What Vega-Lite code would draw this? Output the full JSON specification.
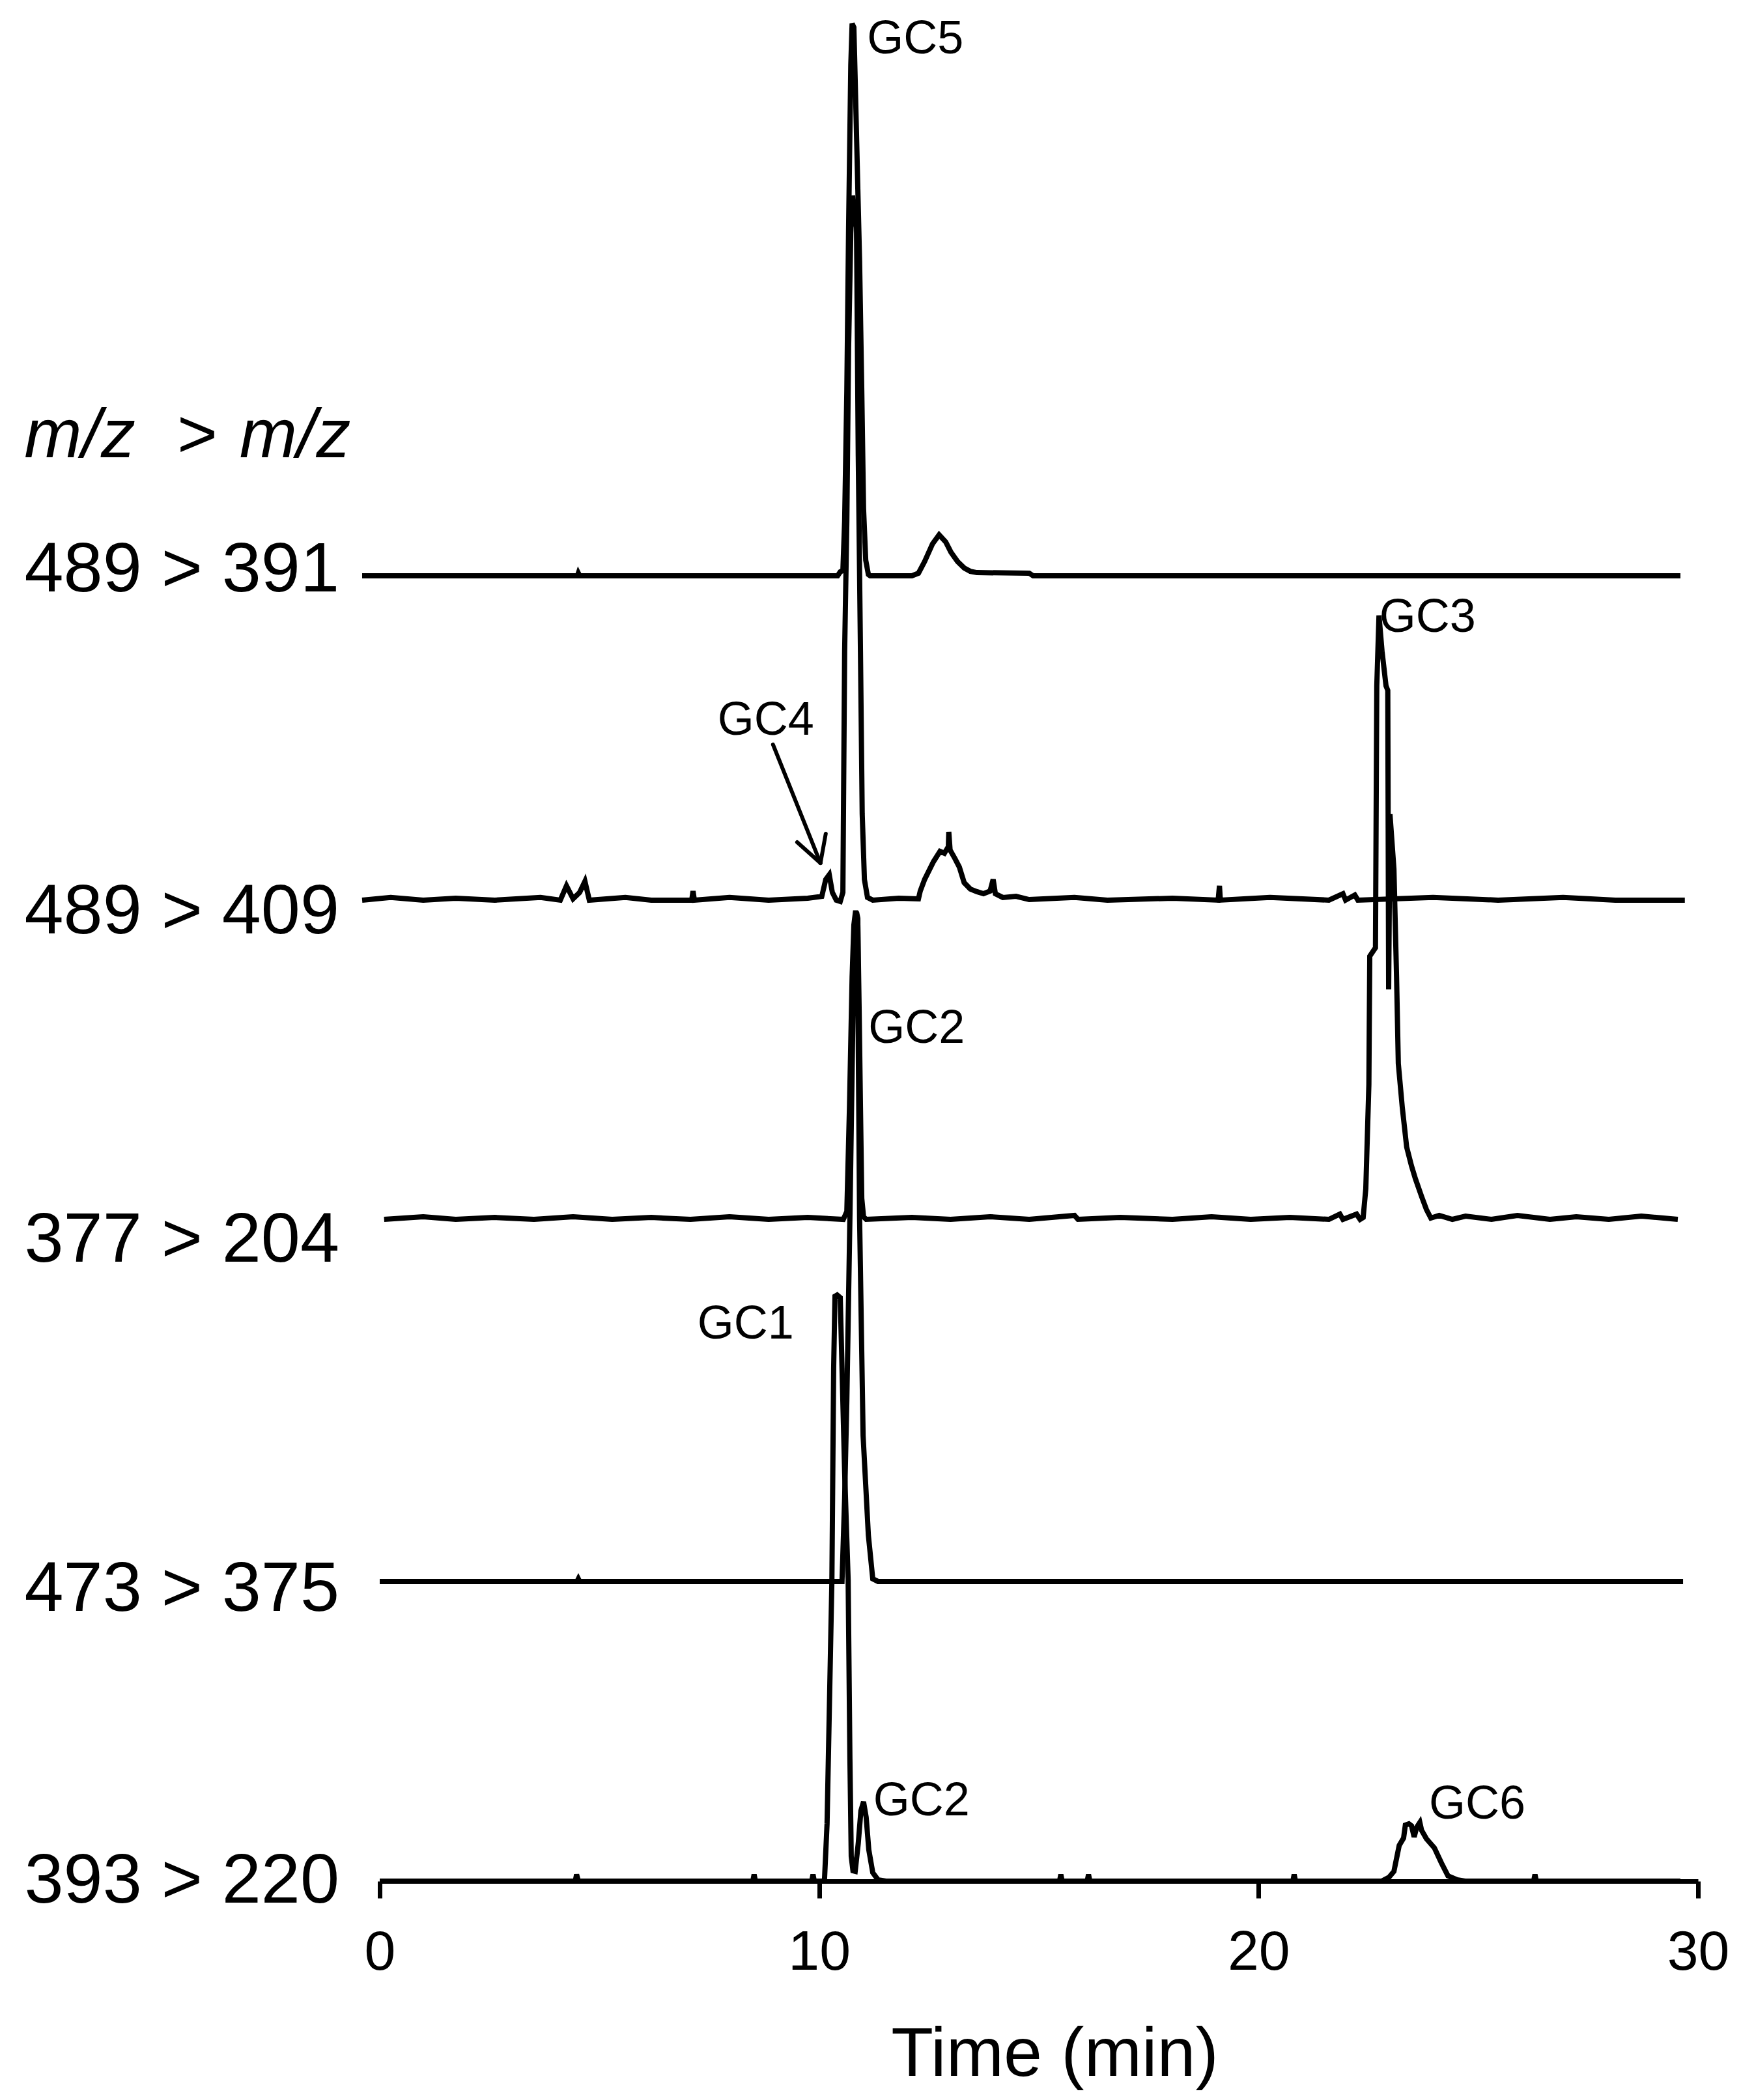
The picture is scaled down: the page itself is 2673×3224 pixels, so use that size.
{
  "$schema": "https://vega.github.io/schema/vega-lite/v6.json",
  "width": 2024,
  "height": 2888,
  "autosize": {"type": "none"},
  "padding": {"left": 583, "top": 0, "right": 66, "bottom": 336},
  "background": "white",
  "config": {"view": {"stroke": null}, "font": "Liberation Sans", "axis": {"grid": false}},
  "datasets": {
    "traces": [
      {"channel": "489 > 391", "time": -0.40, "signal": 69.39},
      {"channel": "489 > 391", "time": 4.50, "signal": 69.39},
      {"channel": "489 > 391", "time": 4.52, "signal": 69.53},
      {"channel": "489 > 391", "time": 4.55, "signal": 69.39},
      {"channel": "489 > 391", "time": 10.42, "signal": 69.39},
      {"channel": "489 > 391", "time": 10.48, "signal": 69.60},
      {"channel": "489 > 391", "time": 10.54, "signal": 69.67},
      {"channel": "489 > 391", "time": 10.58, "signal": 72.30},
      {"channel": "489 > 391", "time": 10.63, "signal": 79.22},
      {"channel": "489 > 391", "time": 10.67, "signal": 87.88},
      {"channel": "489 > 391", "time": 10.72, "signal": 96.54},
      {"channel": "489 > 391", "time": 10.75, "signal": 98.75},
      {"channel": "489 > 391", "time": 10.79, "signal": 98.55},
      {"channel": "489 > 391", "time": 10.83, "signal": 94.81},
      {"channel": "489 > 391", "time": 10.88, "signal": 89.96},
      {"channel": "489 > 391", "time": 10.92, "signal": 86.15},
      {"channel": "489 > 391", "time": 10.97, "signal": 79.22},
      {"channel": "489 > 391", "time": 11.01, "signal": 72.99},
      {"channel": "489 > 391", "time": 11.06, "signal": 70.22},
      {"channel": "489 > 391", "time": 11.12, "signal": 69.46},
      {"channel": "489 > 391", "time": 11.16, "signal": 69.39},
      {"channel": "489 > 391", "time": 12.11, "signal": 69.39},
      {"channel": "489 > 391", "time": 12.26, "signal": 69.53},
      {"channel": "489 > 391", "time": 12.40, "signal": 70.15},
      {"channel": "489 > 391", "time": 12.58, "signal": 71.09},
      {"channel": "489 > 391", "time": 12.73, "signal": 71.57},
      {"channel": "489 > 391", "time": 12.88, "signal": 71.19},
      {"channel": "489 > 391", "time": 13.00, "signal": 70.64},
      {"channel": "489 > 391", "time": 13.15, "signal": 70.15},
      {"channel": "489 > 391", "time": 13.30, "signal": 69.81},
      {"channel": "489 > 391", "time": 13.44, "signal": 69.63},
      {"channel": "489 > 391", "time": 13.59, "signal": 69.56},
      {"channel": "489 > 391", "time": 14.78, "signal": 69.53},
      {"channel": "489 > 391", "time": 14.87, "signal": 69.39},
      {"channel": "489 > 391", "time": 29.60, "signal": 69.39},

      {"channel": "489 > 409", "time": -0.40, "signal": 52.15},
      {"channel": "489 > 409", "time": 0.25, "signal": 52.29},
      {"channel": "489 > 409", "time": 0.99, "signal": 52.15},
      {"channel": "489 > 409", "time": 1.73, "signal": 52.25},
      {"channel": "489 > 409", "time": 2.62, "signal": 52.15},
      {"channel": "489 > 409", "time": 3.66, "signal": 52.29},
      {"channel": "489 > 409", "time": 4.11, "signal": 52.15},
      {"channel": "489 > 409", "time": 4.25, "signal": 52.91},
      {"channel": "489 > 409", "time": 4.40, "signal": 52.22},
      {"channel": "489 > 409", "time": 4.55, "signal": 52.56},
      {"channel": "489 > 409", "time": 4.67, "signal": 53.15},
      {"channel": "489 > 409", "time": 4.77, "signal": 52.15},
      {"channel": "489 > 409", "time": 5.59, "signal": 52.29},
      {"channel": "489 > 409", "time": 6.18, "signal": 52.15},
      {"channel": "489 > 409", "time": 7.10, "signal": 52.15},
      {"channel": "489 > 409", "time": 7.13, "signal": 52.63},
      {"channel": "489 > 409", "time": 7.16, "signal": 52.15},
      {"channel": "489 > 409", "time": 7.96, "signal": 52.29},
      {"channel": "489 > 409", "time": 8.85, "signal": 52.15},
      {"channel": "489 > 409", "time": 9.74, "signal": 52.25},
      {"channel": "489 > 409", "time": 10.06, "signal": 52.35},
      {"channel": "489 > 409", "time": 10.15, "signal": 53.25},
      {"channel": "489 > 409", "time": 10.23, "signal": 53.50},
      {"channel": "489 > 409", "time": 10.30, "signal": 52.56},
      {"channel": "489 > 409", "time": 10.39, "signal": 52.15},
      {"channel": "489 > 409", "time": 10.48, "signal": 52.08},
      {"channel": "489 > 409", "time": 10.54, "signal": 52.56},
      {"channel": "489 > 409", "time": 10.58, "signal": 65.37},
      {"channel": "489 > 409", "time": 10.63, "signal": 72.30},
      {"channel": "489 > 409", "time": 10.67, "signal": 81.50},
      {"channel": "489 > 409", "time": 10.72, "signal": 87.60},
      {"channel": "489 > 409", "time": 10.76, "signal": 89.60},
      {"channel": "489 > 409", "time": 10.80, "signal": 89.00},
      {"channel": "489 > 409", "time": 10.85, "signal": 87.90},
      {"channel": "489 > 409", "time": 10.89, "signal": 75.76},
      {"channel": "489 > 409", "time": 10.94, "signal": 65.37},
      {"channel": "489 > 409", "time": 10.98, "signal": 56.72},
      {"channel": "489 > 409", "time": 11.03, "signal": 53.25},
      {"channel": "489 > 409", "time": 11.10, "signal": 52.29},
      {"channel": "489 > 409", "time": 11.22, "signal": 52.15},
      {"channel": "489 > 409", "time": 11.81, "signal": 52.25},
      {"channel": "489 > 409", "time": 12.26, "signal": 52.22},
      {"channel": "489 > 409", "time": 12.30, "signal": 52.63},
      {"channel": "489 > 409", "time": 12.40, "signal": 53.25},
      {"channel": "489 > 409", "time": 12.60, "signal": 54.19},
      {"channel": "489 > 409", "time": 12.75, "signal": 54.74},
      {"channel": "489 > 409", "time": 12.85, "signal": 54.64},
      {"channel": "489 > 409", "time": 12.94, "signal": 54.99},
      {"channel": "489 > 409", "time": 12.95, "signal": 55.78},
      {"channel": "489 > 409", "time": 12.98, "signal": 54.81},
      {"channel": "489 > 409", "time": 13.09, "signal": 54.36},
      {"channel": "489 > 409", "time": 13.19, "signal": 53.91},
      {"channel": "489 > 409", "time": 13.30, "signal": 53.08},
      {"channel": "489 > 409", "time": 13.44, "signal": 52.74},
      {"channel": "489 > 409", "time": 13.59, "signal": 52.60},
      {"channel": "489 > 409", "time": 13.74, "signal": 52.49},
      {"channel": "489 > 409", "time": 13.89, "signal": 52.63},
      {"channel": "489 > 409", "time": 13.96, "signal": 53.25},
      {"channel": "489 > 409", "time": 14.01, "signal": 52.49},
      {"channel": "489 > 409", "time": 14.18, "signal": 52.29},
      {"channel": "489 > 409", "time": 14.48, "signal": 52.35},
      {"channel": "489 > 409", "time": 14.78, "signal": 52.18},
      {"channel": "489 > 409", "time": 15.81, "signal": 52.29},
      {"channel": "489 > 409", "time": 16.56, "signal": 52.15},
      {"channel": "489 > 409", "time": 18.04, "signal": 52.25},
      {"channel": "489 > 409", "time": 19.08, "signal": 52.15},
      {"channel": "489 > 409", "time": 19.11, "signal": 52.91},
      {"channel": "489 > 409", "time": 19.13, "signal": 52.15},
      {"channel": "489 > 409", "time": 20.26, "signal": 52.29},
      {"channel": "489 > 409", "time": 21.60, "signal": 52.15},
      {"channel": "489 > 409", "time": 21.92, "signal": 52.49},
      {"channel": "489 > 409", "time": 21.98, "signal": 52.15},
      {"channel": "489 > 409", "time": 22.19, "signal": 52.42},
      {"channel": "489 > 409", "time": 22.26, "signal": 52.15},
      {"channel": "489 > 409", "time": 23.97, "signal": 52.29},
      {"channel": "489 > 409", "time": 25.45, "signal": 52.15},
      {"channel": "489 > 409", "time": 26.93, "signal": 52.29},
      {"channel": "489 > 409", "time": 28.12, "signal": 52.15},
      {"channel": "489 > 409", "time": 29.70, "signal": 52.15},

      {"channel": "377 > 204", "time": 0.10, "signal": 35.18},
      {"channel": "377 > 204", "time": 0.99, "signal": 35.32},
      {"channel": "377 > 204", "time": 1.73, "signal": 35.18},
      {"channel": "377 > 204", "time": 2.62, "signal": 35.28},
      {"channel": "377 > 204", "time": 3.51, "signal": 35.18},
      {"channel": "377 > 204", "time": 4.40, "signal": 35.32},
      {"channel": "377 > 204", "time": 5.29, "signal": 35.18},
      {"channel": "377 > 204", "time": 6.18, "signal": 35.28},
      {"channel": "377 > 204", "time": 7.07, "signal": 35.18},
      {"channel": "377 > 204", "time": 7.96, "signal": 35.32},
      {"channel": "377 > 204", "time": 8.85, "signal": 35.18},
      {"channel": "377 > 204", "time": 9.74, "signal": 35.28},
      {"channel": "377 > 204", "time": 10.55, "signal": 35.18},
      {"channel": "377 > 204", "time": 10.63, "signal": 35.60},
      {"channel": "377 > 204", "time": 10.69, "signal": 41.14},
      {"channel": "377 > 204", "time": 10.75, "signal": 48.06},
      {"channel": "377 > 204", "time": 10.79, "signal": 50.83},
      {"channel": "377 > 204", "time": 10.83, "signal": 51.59},
      {"channel": "377 > 204", "time": 10.88, "signal": 50.83},
      {"channel": "377 > 204", "time": 10.91, "signal": 46.33},
      {"channel": "377 > 204", "time": 10.94, "signal": 41.14},
      {"channel": "377 > 204", "time": 10.97, "signal": 36.29},
      {"channel": "377 > 204", "time": 11.01, "signal": 35.32},
      {"channel": "377 > 204", "time": 11.07, "signal": 35.18},
      {"channel": "377 > 204", "time": 12.11, "signal": 35.28},
      {"channel": "377 > 204", "time": 12.99, "signal": 35.18},
      {"channel": "377 > 204", "time": 13.89, "signal": 35.32},
      {"channel": "377 > 204", "time": 14.78, "signal": 35.18},
      {"channel": "377 > 204", "time": 15.81, "signal": 35.39},
      {"channel": "377 > 204", "time": 15.89, "signal": 35.18},
      {"channel": "377 > 204", "time": 16.85, "signal": 35.28},
      {"channel": "377 > 204", "time": 18.04, "signal": 35.18},
      {"channel": "377 > 204", "time": 18.93, "signal": 35.32},
      {"channel": "377 > 204", "time": 19.82, "signal": 35.18},
      {"channel": "377 > 204", "time": 20.71, "signal": 35.28},
      {"channel": "377 > 204", "time": 21.60, "signal": 35.18},
      {"channel": "377 > 204", "time": 21.85, "signal": 35.46},
      {"channel": "377 > 204", "time": 21.92, "signal": 35.18},
      {"channel": "377 > 204", "time": 22.23, "signal": 35.46},
      {"channel": "377 > 204", "time": 22.31, "signal": 35.18},
      {"channel": "377 > 204", "time": 22.38, "signal": 35.28},
      {"channel": "377 > 204", "time": 22.44, "signal": 36.81},
      {"channel": "377 > 204", "time": 22.51, "signal": 42.35},
      {"channel": "377 > 204", "time": 22.53, "signal": 49.17},
      {"channel": "377 > 204", "time": 22.66, "signal": 49.62},
      {"channel": "377 > 204", "time": 22.69, "signal": 63.54},
      {"channel": "377 > 204", "time": 22.74, "signal": 67.28},
      {"channel": "377 > 204", "time": 22.81, "signal": 65.37},
      {"channel": "377 > 204", "time": 22.90, "signal": 63.54},
      {"channel": "377 > 204", "time": 22.94, "signal": 63.30},
      {"channel": "377 > 204", "time": 22.96, "signal": 47.40},
      {"channel": "377 > 204", "time": 22.99, "signal": 56.72},
      {"channel": "377 > 204", "time": 23.08, "signal": 53.81},
      {"channel": "377 > 204", "time": 23.14, "signal": 48.06},
      {"channel": "377 > 204", "time": 23.18, "signal": 43.46},
      {"channel": "377 > 204", "time": 23.27, "signal": 41.14},
      {"channel": "377 > 204", "time": 23.37, "signal": 39.02},
      {"channel": "377 > 204", "time": 23.48, "signal": 38.02},
      {"channel": "377 > 204", "time": 23.57, "signal": 37.33},
      {"channel": "377 > 204", "time": 23.71, "signal": 36.39},
      {"channel": "377 > 204", "time": 23.82, "signal": 35.70},
      {"channel": "377 > 204", "time": 23.92, "signal": 35.25},
      {"channel": "377 > 204", "time": 24.11, "signal": 35.39},
      {"channel": "377 > 204", "time": 24.41, "signal": 35.18},
      {"channel": "377 > 204", "time": 24.71, "signal": 35.35},
      {"channel": "377 > 204", "time": 25.30, "signal": 35.18},
      {"channel": "377 > 204", "time": 25.89, "signal": 35.39},
      {"channel": "377 > 204", "time": 26.63, "signal": 35.18},
      {"channel": "377 > 204", "time": 27.23, "signal": 35.32},
      {"channel": "377 > 204", "time": 27.97, "signal": 35.18},
      {"channel": "377 > 204", "time": 28.71, "signal": 35.35},
      {"channel": "377 > 204", "time": 29.54, "signal": 35.18},

      {"channel": "473 > 375", "time": 0.00, "signal": 15.93},
      {"channel": "473 > 375", "time": 4.49, "signal": 15.93},
      {"channel": "473 > 375", "time": 4.52, "signal": 16.07},
      {"channel": "473 > 375", "time": 4.55, "signal": 15.93},
      {"channel": "473 > 375", "time": 10.52, "signal": 15.93},
      {"channel": "473 > 375", "time": 10.58, "signal": 20.36},
      {"channel": "473 > 375", "time": 10.63, "signal": 25.55},
      {"channel": "473 > 375", "time": 10.70, "signal": 35.28},
      {"channel": "473 > 375", "time": 10.76, "signal": 44.60},
      {"channel": "473 > 375", "time": 10.80, "signal": 50.83},
      {"channel": "473 > 375", "time": 10.85, "signal": 51.52},
      {"channel": "473 > 375", "time": 10.88, "signal": 51.18},
      {"channel": "473 > 375", "time": 10.89, "signal": 44.60},
      {"channel": "473 > 375", "time": 10.92, "signal": 35.28},
      {"channel": "473 > 375", "time": 11.00, "signal": 23.68},
      {"channel": "473 > 375", "time": 11.12, "signal": 18.39},
      {"channel": "473 > 375", "time": 11.22, "signal": 16.07},
      {"channel": "473 > 375", "time": 11.34, "signal": 15.93},
      {"channel": "473 > 375", "time": 29.66, "signal": 15.93},

      {"channel": "393 > 220", "time": 0.00, "signal": 0},
      {"channel": "393 > 220", "time": 4.45, "signal": 0},
      {"channel": "393 > 220", "time": 4.48, "signal": 0.35},
      {"channel": "393 > 220", "time": 4.52, "signal": 0},
      {"channel": "393 > 220", "time": 8.49, "signal": 0},
      {"channel": "393 > 220", "time": 8.52, "signal": 0.35},
      {"channel": "393 > 220", "time": 8.55, "signal": 0},
      {"channel": "393 > 220", "time": 9.83, "signal": 0},
      {"channel": "393 > 220", "time": 9.86, "signal": 0.35},
      {"channel": "393 > 220", "time": 9.89, "signal": 0},
      {"channel": "393 > 220", "time": 10.12, "signal": 0},
      {"channel": "393 > 220", "time": 10.18, "signal": 3.05},
      {"channel": "393 > 220", "time": 10.29, "signal": 16.00},
      {"channel": "393 > 220", "time": 10.33, "signal": 27.29},
      {"channel": "393 > 220", "time": 10.36, "signal": 31.09},
      {"channel": "393 > 220", "time": 10.41, "signal": 31.16},
      {"channel": "393 > 220", "time": 10.48, "signal": 31.02},
      {"channel": "393 > 220", "time": 10.52, "signal": 27.29},
      {"channel": "393 > 220", "time": 10.58, "signal": 21.75},
      {"channel": "393 > 220", "time": 10.66, "signal": 16.00},
      {"channel": "393 > 220", "time": 10.70, "signal": 6.51},
      {"channel": "393 > 220", "time": 10.73, "signal": 1.32},
      {"channel": "393 > 220", "time": 10.77, "signal": 0.55},
      {"channel": "393 > 220", "time": 10.82, "signal": 0.52},
      {"channel": "393 > 220", "time": 10.89, "signal": 2.01},
      {"channel": "393 > 220", "time": 10.95, "signal": 3.74},
      {"channel": "393 > 220", "time": 11.01, "signal": 4.22},
      {"channel": "393 > 220", "time": 11.07, "signal": 3.39},
      {"channel": "393 > 220", "time": 11.13, "signal": 1.66},
      {"channel": "393 > 220", "time": 11.22, "signal": 0.45},
      {"channel": "393 > 220", "time": 11.34, "signal": 0.07},
      {"channel": "393 > 220", "time": 11.52, "signal": 0},
      {"channel": "393 > 220", "time": 15.47, "signal": 0},
      {"channel": "393 > 220", "time": 15.50, "signal": 0.35},
      {"channel": "393 > 220", "time": 15.53, "signal": 0},
      {"channel": "393 > 220", "time": 16.10, "signal": 0},
      {"channel": "393 > 220", "time": 16.13, "signal": 0.35},
      {"channel": "393 > 220", "time": 16.16, "signal": 0},
      {"channel": "393 > 220", "time": 20.78, "signal": 0},
      {"channel": "393 > 220", "time": 20.81, "signal": 0.35},
      {"channel": "393 > 220", "time": 20.84, "signal": 0},
      {"channel": "393 > 220", "time": 22.80, "signal": 0},
      {"channel": "393 > 220", "time": 22.97, "signal": 0.21},
      {"channel": "393 > 220", "time": 23.08, "signal": 0.52},
      {"channel": "393 > 220", "time": 23.20, "signal": 1.90},
      {"channel": "393 > 220", "time": 23.30, "signal": 2.29},
      {"channel": "393 > 220", "time": 23.34, "signal": 2.98},
      {"channel": "393 > 220", "time": 23.42, "signal": 3.05},
      {"channel": "393 > 220", "time": 23.48, "signal": 2.94},
      {"channel": "393 > 220", "time": 23.54, "signal": 2.35},
      {"channel": "393 > 220", "time": 23.60, "signal": 2.87},
      {"channel": "393 > 220", "time": 23.67, "signal": 3.12},
      {"channel": "393 > 220", "time": 23.71, "signal": 2.70},
      {"channel": "393 > 220", "time": 23.82, "signal": 2.25},
      {"channel": "393 > 220", "time": 24.00, "signal": 1.77},
      {"channel": "393 > 220", "time": 24.16, "signal": 0.97},
      {"channel": "393 > 220", "time": 24.31, "signal": 0.28},
      {"channel": "393 > 220", "time": 24.52, "signal": 0.07},
      {"channel": "393 > 220", "time": 24.70, "signal": 0},
      {"channel": "393 > 220", "time": 26.26, "signal": 0},
      {"channel": "393 > 220", "time": 26.29, "signal": 0.35},
      {"channel": "393 > 220", "time": 26.32, "signal": 0},
      {"channel": "393 > 220", "time": 29.60, "signal": 0}
    ],
    "peaks": [
      {"peak": "GC5", "time": 11.09, "signal": 97.16},
      {"peak": "GC4", "time": 7.69, "signal": 60.94},
      {"peak": "GC3", "time": 22.75, "signal": 66.41},
      {"peak": "GC2", "time": 11.12, "signal": 44.56},
      {"peak": "GC1", "time": 7.23, "signal": 28.84},
      {"peak": "GC2", "time": 11.23, "signal": 3.50},
      {"peak": "GC6", "time": 23.88, "signal": 3.32}
    ],
    "arrow": [
      {"time": 8.95, "signal": 60.42, "time2": 10.03, "signal2": 54.12},
      {"time": 9.50, "signal": 55.23, "time2": 10.03, "signal2": 54.12},
      {"time": 10.15, "signal": 55.68, "time2": 10.03, "signal2": 54.12}
    ]
  },
  "encoding": {
    "x": {
      "field": "time", "type": "quantitative",
      "scale": {"domain": [0, 30], "nice": false, "zero": false},
      "axis": {
        "values": [0, 10, 20, 30], "format": "d", "title": "Time (min)",
        "labelFlush": false, "labelOverlap": false,
        "domainColor": "black", "domainWidth": 7,
        "tickColor": "black", "tickWidth": 7, "tickSize": 26,
        "labelFont": "Liberation Sans", "labelFontSize": 86, "labelColor": "black", "labelPadding": 41,
        "titleFont": "Liberation Sans", "titleFontSize": 106, "titleFontWeight": "normal", "titleColor": "black",
        "titleX": 1036, "titleY": 298, "titleBaseline": "alphabetic", "titleAlign": "center"
      }
    },
    "y": {
      "field": "signal", "type": "quantitative",
      "scale": {"domain": [0, 100], "nice": false, "zero": false},
      "axis": {
        "values": [0, 15.48, 34.07, 51.52, 69.7],
        "labelExpr": "datum.value > 60 ? '489 > 391' : datum.value > 45 ? '489 > 409' : datum.value > 25 ? '377 > 204' : datum.value > 5 ? '473 > 375' : '393 > 220'",
        "domain": false, "ticks": false, "tickSize": 0,
        "labelAlign": "left", "labelBaseline": "middle", "labelPadding": 546, "labelLimit": 0,
        "labelFont": "Liberation Sans", "labelFontSize": 108, "labelColor": "black",
        "labelFlush": false, "labelOverlap": false, "title": null
      }
    }
  },
  "layer": [
    {
      "data": {"name": "traces"},
      "mark": {"type": "line", "color": "black", "strokeWidth": 8, "clip": false},
      "encoding": {
        "detail": {"field": "channel", "type": "nominal"}
      }
    },
    {
      "data": {"name": "arrow"},
      "mark": {"type": "rule", "color": "black", "strokeWidth": 6, "strokeCap": "round"},
      "encoding": {
        "x2": {"field": "time2"},
        "y2": {"field": "signal2"}
      }
    },
    {
      "data": {"name": "peaks"},
      "mark": {"type": "text", "font": "Liberation Sans", "fontSize": 72, "align": "left", "baseline": "alphabetic", "color": "black"},
      "encoding": {
        "text": {"field": "peak", "type": "nominal"}
      }
    },
    {
      "data": {"values": [{"part": "m/z", "time": -8.09, "signal": 75.69}, {"part": "m/z", "time": -3.19, "signal": 75.69}]},
      "mark": {"type": "text", "font": "Liberation Sans", "fontStyle": "italic", "fontSize": 106, "align": "left", "baseline": "alphabetic", "color": "black"},
      "encoding": {
        "text": {"field": "part", "type": "nominal"}
      }
    },
    {
      "data": {"values": [{"part": ">", "time": -4.61, "signal": 75.69}]},
      "mark": {"type": "text", "font": "Liberation Sans", "fontSize": 106, "align": "left", "baseline": "alphabetic", "color": "black"},
      "encoding": {
        "text": {"field": "part", "type": "nominal"}
      }
    }
  ]
}
